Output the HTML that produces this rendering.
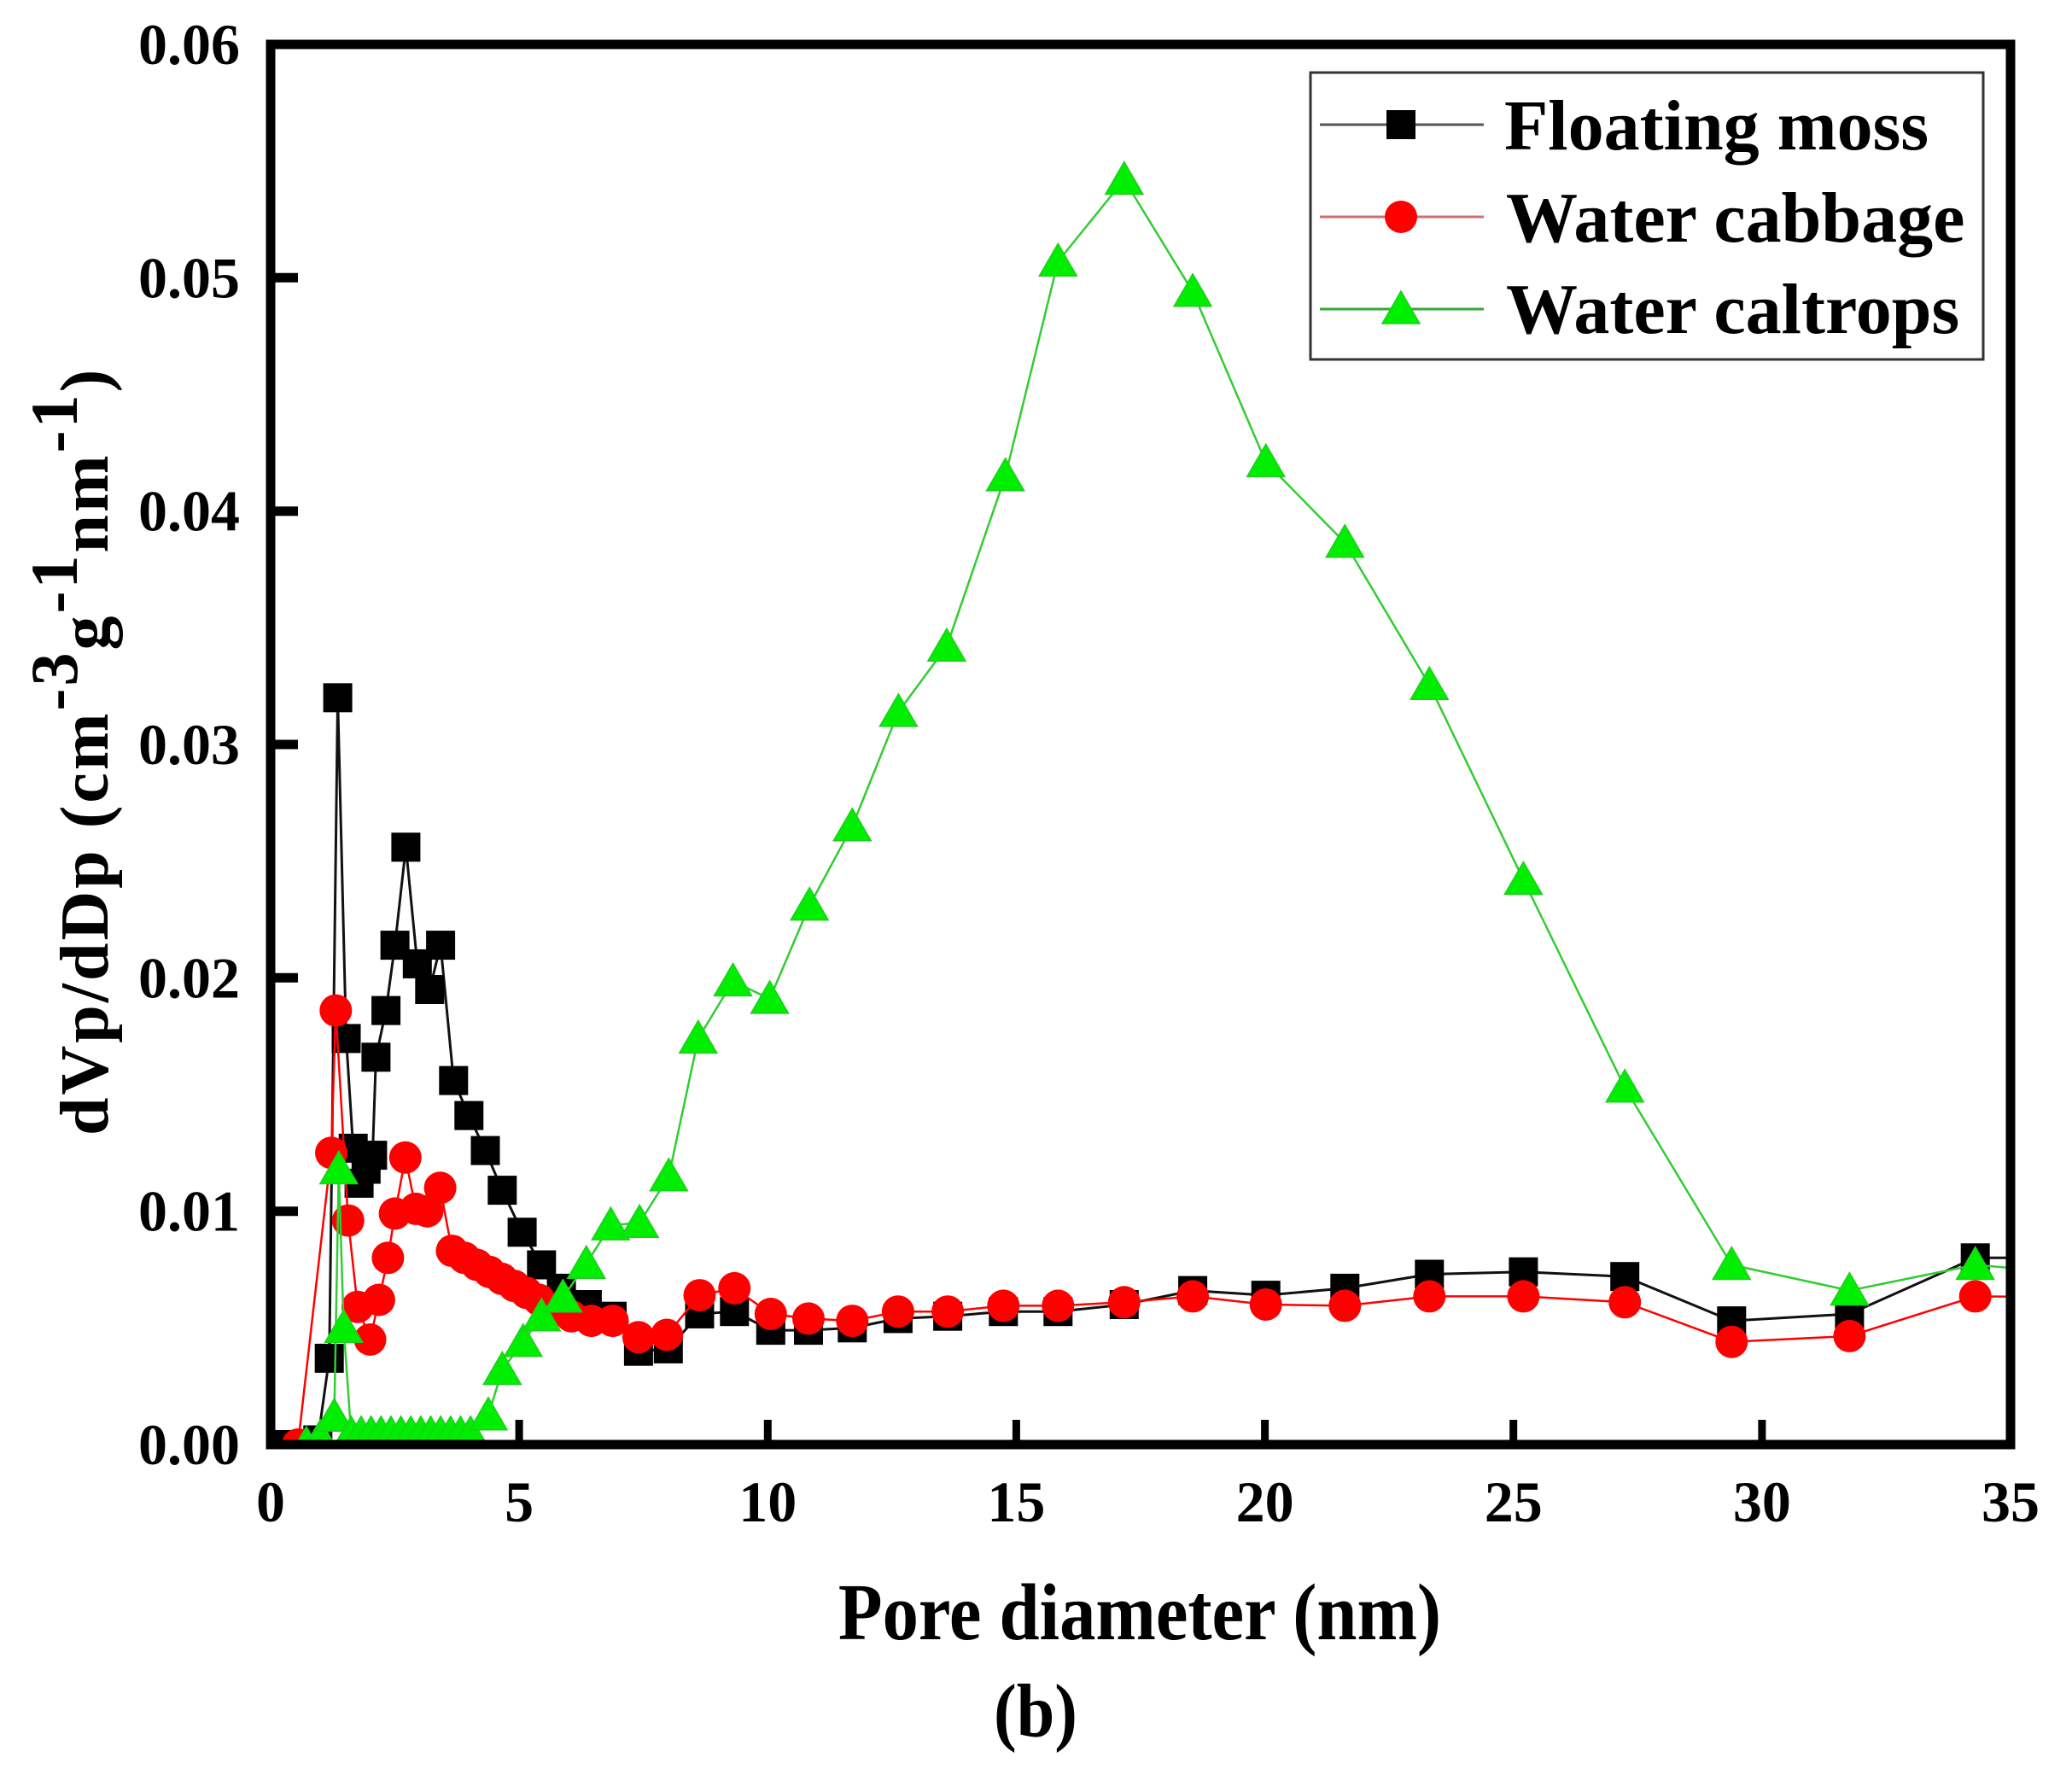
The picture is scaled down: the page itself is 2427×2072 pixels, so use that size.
<!DOCTYPE html>
<html>
<head>
<meta charset="utf-8">
<style>
  html, body { margin: 0; padding: 0; background: #ffffff; }
  body { width: 2427px; height: 2072px; overflow: hidden; }
  svg { display: block; }
  text { font-family: "Liberation Serif", "Times New Roman", serif; font-weight: bold; fill: #000; }
</style>
</head>
<body>
<svg width="2427" height="2072" viewBox="0 0 2427 2072" xmlns="http://www.w3.org/2000/svg">
  <defs>
    <clipPath id="plot"><rect x="317" y="52" width="2038" height="1640"/></clipPath>
    <rect id="sq" x="-17" y="-17" width="34" height="34" fill="#000"/>
    <circle id="ci" cx="0" cy="0" r="19" fill="#ff0000"/>
    <path id="tr" d="M0,-21 L22,17 L-22,17 Z" fill="#00ee00" stroke="#22cc22" stroke-width="1.5"/>
  </defs>
  <rect x="0" y="0" width="2427" height="2072" fill="#fff"/>

  <g clip-path="url(#plot)">
    <!-- Floating moss -->
    <polyline fill="none" stroke="#111" stroke-width="3" stroke-linejoin="round" points="334.5,1692 354.8,1692 372.3,1686.5 385.7,1590.9 395.6,817.3 405.5,1216.4 413.7,1344.9 420.6,1385.9 428.8,1369.5 436.4,1353.1 440.4,1238.3 452.1,1183.6 462.6,1107.1 475.4,992.3 488.8,1128.9 503.3,1159 516.1,1107.1 531.3,1265.6 549.3,1306.6 568.5,1347.6 588.3,1394.1 611.6,1443.3 634.3,1481.5 657.6,1508.9 687.9,1528 717,1541.7 747.9,1582.7 782.8,1579.9 819.5,1538.9 860.3,1536.2 902.8,1558.1 947,1558.1 998.3,1555.3 1051.9,1544.4 1110.1,1541.7 1175.3,1536.2 1239.3,1536.2 1316.8,1528 1397.1,1511.6 1482.7,1517.1 1575.3,1508.9 1674.3,1492.5 1784.4,1489.7 1903.2,1495.2 2028.3,1547.1 2166.4,1539 2313.7,1473.3 2471.5,1473.3"/>
    <g>
      <use href="#sq" x="334.5" y="1692"/><use href="#sq" x="354.8" y="1692"/><use href="#sq" x="372.3" y="1686.5"/>
      <use href="#sq" x="385.7" y="1590.9"/><use href="#sq" x="395.6" y="817.3"/><use href="#sq" x="405.5" y="1216.4"/>
      <use href="#sq" x="413.7" y="1344.9"/><use href="#sq" x="420.6" y="1385.9"/><use href="#sq" x="428.8" y="1369.5"/>
      <use href="#sq" x="436.4" y="1353.1"/><use href="#sq" x="440.4" y="1238.3"/><use href="#sq" x="452.1" y="1183.6"/>
      <use href="#sq" x="462.6" y="1107.1"/><use href="#sq" x="475.4" y="992.3"/><use href="#sq" x="488.8" y="1128.9"/>
      <use href="#sq" x="503.3" y="1159"/><use href="#sq" x="516.1" y="1107.1"/><use href="#sq" x="531.3" y="1265.6"/>
      <use href="#sq" x="549.3" y="1306.6"/><use href="#sq" x="568.5" y="1347.6"/><use href="#sq" x="588.3" y="1394.1"/>
      <use href="#sq" x="611.6" y="1443.3"/><use href="#sq" x="634.3" y="1481.5"/><use href="#sq" x="657.6" y="1508.9"/>
      <use href="#sq" x="687.9" y="1528"/><use href="#sq" x="717" y="1541.7"/><use href="#sq" x="747.9" y="1582.7"/>
      <use href="#sq" x="782.8" y="1579.9"/><use href="#sq" x="819.5" y="1538.9"/><use href="#sq" x="860.3" y="1536.2"/>
      <use href="#sq" x="902.8" y="1558.1"/><use href="#sq" x="947" y="1558.1"/><use href="#sq" x="998.3" y="1555.3"/>
      <use href="#sq" x="1051.9" y="1544.4"/><use href="#sq" x="1110.1" y="1541.7"/><use href="#sq" x="1175.3" y="1536.2"/>
      <use href="#sq" x="1239.3" y="1536.2"/><use href="#sq" x="1316.8" y="1528"/><use href="#sq" x="1397.1" y="1511.6"/>
      <use href="#sq" x="1482.7" y="1517.1"/><use href="#sq" x="1575.3" y="1508.9"/><use href="#sq" x="1674.3" y="1492.5"/>
      <use href="#sq" x="1784.4" y="1489.7"/><use href="#sq" x="1903.2" y="1495.2"/><use href="#sq" x="2028.3" y="1547.1"/>
      <use href="#sq" x="2166.4" y="1539"/><use href="#sq" x="2313.7" y="1473.3"/>
    </g>

    <!-- Water cabbage -->
    <polyline fill="none" stroke="#ff0000" stroke-width="2.5" stroke-linejoin="round" points="349,1692 388,1350.3 393.3,1183.6 407.8,1429.6 418.9,1530.7 433.5,1569 443.9,1522.5 454.4,1473.3 462.6,1421.4 474.8,1355.8 487,1415.9 500.4,1418.7 515.6,1391.3 529.5,1465.1 544.1,1473.3 558.7,1481.5 573.2,1489.7 587.8,1497.9 602.3,1506.1 616.9,1514.3 631.4,1522.5 648.9,1533.5 669.3,1541.7 692.6,1547.1 717.6,1547.1 747.9,1566.3 781.1,1563.5 819.5,1517.1 860.3,1508.9 902.8,1539 947,1544.4 998.3,1547.1 1051.9,1536.2 1110.1,1536.2 1175.3,1529.4 1239.3,1529.4 1316.8,1525.3 1397.1,1518.4 1482.7,1528 1575.3,1529.4 1674.3,1518.4 1784.4,1518.4 1903.2,1525.3 2028.3,1571.7 2166.4,1564.9 2313.7,1518.4 2471.5,1519.8"/>
    <g>
      <use href="#ci" x="349" y="1692"/><use href="#ci" x="388" y="1350.3"/><use href="#ci" x="393.3" y="1183.6"/>
      <use href="#ci" x="407.8" y="1429.6"/><use href="#ci" x="418.9" y="1530.7"/><use href="#ci" x="433.5" y="1569"/>
      <use href="#ci" x="443.9" y="1522.5"/><use href="#ci" x="454.4" y="1473.3"/><use href="#ci" x="462.6" y="1421.4"/>
      <use href="#ci" x="474.8" y="1355.8"/><use href="#ci" x="487" y="1415.9"/><use href="#ci" x="500.4" y="1418.7"/>
      <use href="#ci" x="515.6" y="1391.3"/><use href="#ci" x="529.5" y="1465.1"/><use href="#ci" x="544.1" y="1473.3"/>
      <use href="#ci" x="558.7" y="1481.5"/><use href="#ci" x="573.2" y="1489.7"/><use href="#ci" x="587.8" y="1497.9"/>
      <use href="#ci" x="602.3" y="1506.1"/><use href="#ci" x="616.9" y="1514.3"/><use href="#ci" x="631.4" y="1522.5"/>
      <use href="#ci" x="648.9" y="1533.5"/><use href="#ci" x="669.3" y="1541.7"/><use href="#ci" x="692.6" y="1547.1"/>
      <use href="#ci" x="717.6" y="1547.1"/><use href="#ci" x="747.9" y="1566.3"/><use href="#ci" x="781.1" y="1563.5"/>
      <use href="#ci" x="819.5" y="1517.1"/><use href="#ci" x="860.3" y="1508.9"/><use href="#ci" x="902.8" y="1539"/>
      <use href="#ci" x="947" y="1544.4"/><use href="#ci" x="998.3" y="1547.1"/><use href="#ci" x="1051.9" y="1536.2"/>
      <use href="#ci" x="1110.1" y="1536.2"/><use href="#ci" x="1175.3" y="1529.4"/><use href="#ci" x="1239.3" y="1529.4"/>
      <use href="#ci" x="1316.8" y="1525.3"/><use href="#ci" x="1397.1" y="1518.4"/><use href="#ci" x="1482.7" y="1528"/>
      <use href="#ci" x="1575.3" y="1529.4"/><use href="#ci" x="1674.3" y="1518.4"/><use href="#ci" x="1784.4" y="1518.4"/>
      <use href="#ci" x="1903.2" y="1525.3"/><use href="#ci" x="2028.3" y="1571.7"/><use href="#ci" x="2166.4" y="1564.9"/>
      <use href="#ci" x="2313.7" y="1518.4"/>
    </g>

    <!-- Water caltrops -->
    <polyline fill="none" stroke="#33cc33" stroke-width="2.5" stroke-linejoin="round" points="358.9,1692 375.2,1683.8 391.5,1659.2 396.8,1369.5 402.6,1555.3 411.3,1679.7 423,1679.7 434.6,1679.7 446.3,1679.7 457.9,1679.7 469.6,1679.7 481.2,1679.7 492.9,1679.7 504.5,1679.7 516.1,1679.7 527.8,1679.7 539.4,1679.7 551.1,1679.7 572,1657.8 588.3,1604.5 612.8,1571.7 634.3,1541.7 659.4,1519.8 686.8,1480.2 715.3,1435.1 749.1,1432.3 783.4,1377.7 817.8,1216.4 858.5,1149.4 901.6,1169.9 948.2,1060.6 998.3,967.7 1052.4,833.7 1108.9,757.2 1177.6,557.7 1239.3,306.2 1316.8,210.5 1397.1,341.7 1482.7,541.3 1575.3,635.6 1674.3,802.3 1784.4,1030.5 1903.2,1273.8 2028.3,1481.5 2166.4,1511.6 2313.7,1481.5 2471.5,1495.2"/>
    <g>
      <use href="#tr" x="358.9" y="1692"/><use href="#tr" x="375.2" y="1683.8"/><use href="#tr" x="391.5" y="1659.2"/>
      <use href="#tr" x="396.8" y="1369.5"/><use href="#tr" x="402.6" y="1555.3"/><use href="#tr" x="411.3" y="1679.7"/>
      <use href="#tr" x="423" y="1679.7"/><use href="#tr" x="434.6" y="1679.7"/><use href="#tr" x="446.3" y="1679.7"/>
      <use href="#tr" x="457.9" y="1679.7"/><use href="#tr" x="469.6" y="1679.7"/><use href="#tr" x="481.2" y="1679.7"/>
      <use href="#tr" x="492.9" y="1679.7"/><use href="#tr" x="504.5" y="1679.7"/><use href="#tr" x="516.1" y="1679.7"/>
      <use href="#tr" x="527.8" y="1679.7"/><use href="#tr" x="539.4" y="1679.7"/><use href="#tr" x="551.1" y="1679.7"/>
      <use href="#tr" x="572" y="1657.8"/><use href="#tr" x="588.3" y="1604.5"/><use href="#tr" x="612.8" y="1571.7"/>
      <use href="#tr" x="634.3" y="1541.7"/><use href="#tr" x="659.4" y="1519.8"/><use href="#tr" x="686.8" y="1480.2"/>
      <use href="#tr" x="715.3" y="1435.1"/><use href="#tr" x="749.1" y="1432.3"/><use href="#tr" x="783.4" y="1377.7"/>
      <use href="#tr" x="817.8" y="1216.4"/><use href="#tr" x="858.5" y="1149.4"/><use href="#tr" x="901.6" y="1169.9"/>
      <use href="#tr" x="948.2" y="1060.6"/><use href="#tr" x="998.3" y="967.7"/><use href="#tr" x="1052.4" y="833.7"/>
      <use href="#tr" x="1108.9" y="757.2"/><use href="#tr" x="1177.6" y="557.7"/><use href="#tr" x="1239.3" y="306.2"/>
      <use href="#tr" x="1316.8" y="210.5"/><use href="#tr" x="1397.1" y="341.7"/><use href="#tr" x="1482.7" y="541.3"/>
      <use href="#tr" x="1575.3" y="635.6"/><use href="#tr" x="1674.3" y="802.3"/><use href="#tr" x="1784.4" y="1030.5"/>
      <use href="#tr" x="1903.2" y="1273.8"/><use href="#tr" x="2028.3" y="1481.5"/><use href="#tr" x="2166.4" y="1511.6"/>
      <use href="#tr" x="2313.7" y="1481.5"/>
    </g>
  </g>

  <!-- Axis frame -->
  <rect x="317" y="52" width="2038" height="1640" fill="none" stroke="#000" stroke-width="11"/>

  <!-- Left ticks (inward) -->
  <g stroke="#000" stroke-width="11">
    <line x1="317" y1="1418.7" x2="349" y2="1418.7"/>
    <line x1="317" y1="1145.3" x2="349" y2="1145.3"/>
    <line x1="317" y1="872" x2="349" y2="872"/>
    <line x1="317" y1="598.7" x2="349" y2="598.7"/>
    <line x1="317" y1="325.3" x2="349" y2="325.3"/>
  </g>
  <!-- Bottom ticks (inward) -->
  <g stroke="#000" stroke-width="9">
    <line x1="608.1" y1="1692" x2="608.1" y2="1663"/>
    <line x1="899.3" y1="1692" x2="899.3" y2="1663"/>
    <line x1="1190.4" y1="1692" x2="1190.4" y2="1663"/>
    <line x1="1481.6" y1="1692" x2="1481.6" y2="1663"/>
    <line x1="1772.7" y1="1692" x2="1772.7" y2="1663"/>
    <line x1="2063.9" y1="1692" x2="2063.9" y2="1663"/>
  </g>

  <!-- Y tick labels -->
  <g font-size="68" text-anchor="end">
    <text x="281" y="1715">0.00</text>
    <text x="281" y="1441.7">0.01</text>
    <text x="281" y="1168.3">0.02</text>
    <text x="281" y="895">0.03</text>
    <text x="281" y="621.7">0.04</text>
    <text x="281" y="348.3">0.05</text>
    <text x="281" y="75">0.06</text>
  </g>

  <!-- X tick labels -->
  <g font-size="68" text-anchor="middle">
    <text x="317" y="1782">0</text>
    <text x="608.1" y="1782">5</text>
    <text x="899.3" y="1782">10</text>
    <text x="1190.4" y="1782">15</text>
    <text x="1481.6" y="1782">20</text>
    <text x="1772.7" y="1782">25</text>
    <text x="2063.9" y="1782">30</text>
    <text x="2355" y="1782">35</text>
  </g>

  <!-- X axis title -->
  <text transform="translate(1335,1920) scale(0.9,1)" font-size="94" text-anchor="middle">Pore diameter (nm)</text>

  <!-- Y axis title -->
  <text transform="translate(126,1330) rotate(-90)" font-size="80" letter-spacing="3" text-anchor="start">dVp/dDp (cm<tspan font-size="78" dy="-36">-3</tspan><tspan dy="36">g</tspan><tspan font-size="78" dy="-36">-1</tspan><tspan dy="36">nm</tspan><tspan font-size="78" dy="-36">-1</tspan><tspan dy="36">)</tspan></text>

  <!-- Panel label -->
  <text transform="translate(1213,2034) scale(0.9,1)" font-size="89" text-anchor="middle">(b)</text>

  <!-- Legend -->
  <rect x="1535" y="85" width="788" height="336" fill="#fff" stroke="#333" stroke-width="3"/>
  <line x1="1546" y1="146" x2="1738" y2="146" stroke="#555" stroke-width="3"/>
  <rect x="1624" y="129" width="34" height="34" fill="#000"/>
  <line x1="1546" y1="254" x2="1738" y2="254" stroke="#d07070" stroke-width="3"/>
  <circle cx="1641" cy="254" r="19" fill="#ff0000"/>
  <line x1="1546" y1="362" x2="1738" y2="362" stroke="#33aa33" stroke-width="3"/>
  <path d="M1641,341 L1663,379 L1619,379 Z" fill="#00ee00" stroke="#22cc22" stroke-width="1.5"/>
  <g font-size="84">
    <text x="1762" y="175">Floating moss</text>
    <text x="1764" y="283">Water cabbage</text>
    <text x="1764" y="390">Water caltrops</text>
  </g>
</svg>
</body>
</html>
